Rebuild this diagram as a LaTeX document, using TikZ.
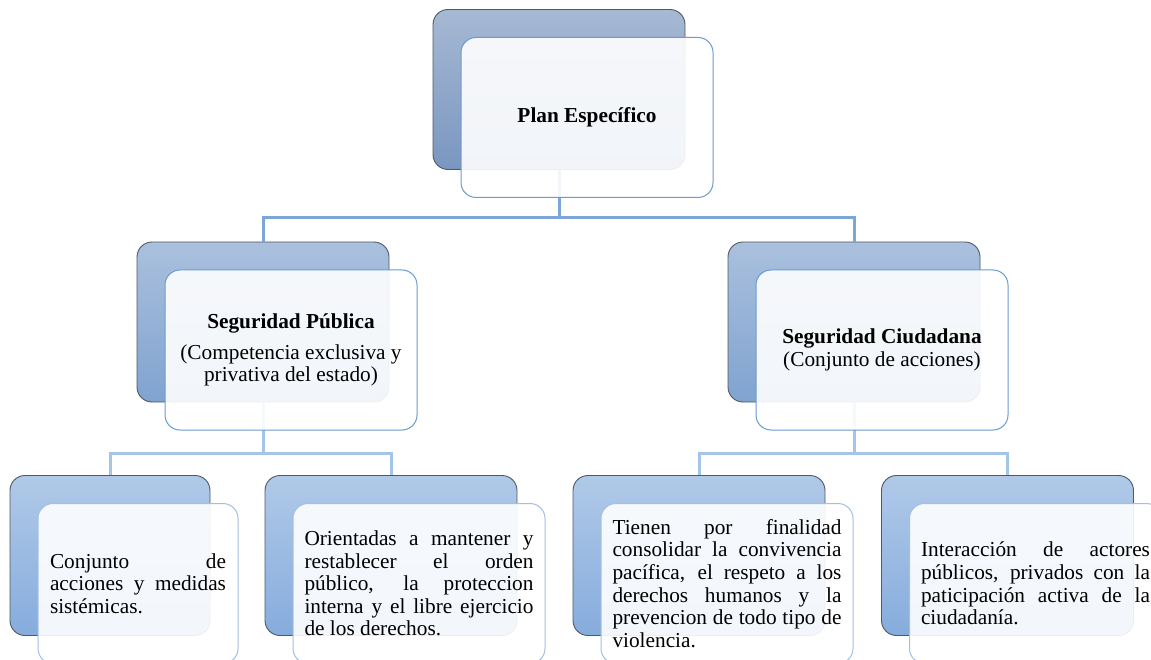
\documentclass[tikz,border=0pt]{standalone}
\usepackage{fontspec}
\setmainfont{Liberation Serif}
\usepackage{tikz}

\definecolor{edgegray}{RGB}{80,88,100}
\definecolor{planTop}{RGB}{166,185,212}
\definecolor{planBot}{RGB}{122,150,192}
\definecolor{segTop}{RGB}{170,192,221}
\definecolor{segBot}{RGB}{128,163,208}
\definecolor{hojaTop}{RGB}{176,201,232}
\definecolor{hojaBot}{RGB}{134,172,221}
\definecolor{lineaA}{RGB}{106,155,210}
\definecolor{lineaB}{RGB}{163,192,228}
\definecolor{connA}{RGB}{123,166,217}
\definecolor{connB}{RGB}{165,196,233}

\begin{document}
\begin{tikzpicture}[x=1pt,y=-1pt,
    back/.style={draw=edgegray,line width=0.9pt,rounded corners=15pt,
      minimum width=252pt,minimum height=160pt},
    backplan/.style={back,top color=planTop,bottom color=planBot},
    backseg/.style={back,top color=segTop,bottom color=segBot},
    backhoja/.style={back,top color=hojaTop,bottom color=hojaBot},
    front/.style={draw=lineaA,line width=1pt,rounded corners=15pt,
      fill=white,fill opacity=0.9,text opacity=1,inner sep=0pt,
      minimum width=252pt,minimum height=160pt,
      font=\fontsize{21.3}{22.6}\selectfont},
    fronthoja/.style={front,draw=lineaB,align=justify,text width=229pt},
    conn/.style={draw=connA,line width=3pt},
    connhoja/.style={draw=connB,line width=3pt}]
  \clip (0,0) rectangle (1151,660);
  \fill[white] (0,0) rectangle (1151,660);

  % cajas de fondo
  \node[backplan] (planB) at (559,89.5) {};
  \node[backseg] (pubB) at (263,322) {};
  \node[backseg] (ciuB) at (854,322) {};
  \node[backhoja,minimum width=200pt] (conjB) at (110,555.5) {};
  \node[backhoja] (orienB) at (391,555.5) {};
  \node[backhoja] (tienB) at (699,555.5) {};
  \node[backhoja] (interB) at (1007.5,555.5) {};

  % conectores
  \coordinate (j1) at (559,218);
  \coordinate (j2) at (263,453);
  \coordinate (j3) at (854,453);
  \draw[conn] (planB.south) -- (j1);
  \draw[conn] (j1) -| (pubB.north);
  \draw[conn] (j1) -| (ciuB.north);
  \draw[connhoja] (pubB.south) -- (j2);
  \draw[connhoja] (j2) -| (conjB.north);
  \draw[connhoja] (j2) -| (orienB.north);
  \draw[connhoja] (ciuB.south) -- (j3);
  \draw[connhoja] (j3) -| (tienB.north);
  \draw[connhoja] (j3) -| (interB.north);

  % cajas de texto
  \node[front] (plan) at ([shift={(28,28)}]planB.center)
    {\textbf{Plan Específico}};
  \node[front,align=center] (pub) at ([shift={(28,28)}]pubB.center)
    {\textbf{Seguridad Pública}\\[8pt](Competencia exclusiva y\\privativa del estado)};
  \node[front,align=center] (ciu) at ([shift={(28,28)}]ciuB.center)
    {\textbf{Seguridad Ciudadana}\\(Conjunto de acciones)};
  \node[fronthoja,minimum width=200pt,text width=176pt] (conj)
    at ([shift={(28,28)}]conjB.center)
    {Conjunto de\linebreak acciones y medidas\linebreak sistémicas.};
  \node[fronthoja] (orien) at ([shift={(28,28)}]orienB.center)
    {Orientadas a mantener y\linebreak restablecer el orden\linebreak
     público, la proteccion\linebreak interna y el libre ejercicio\linebreak
     de los derechos.};
  \node[fronthoja] (tien) at ([shift={(28,28)}]tienB.center)
    {Tienen por finalidad\linebreak consolidar la convivencia\linebreak
     pacífica, el respeto a los\linebreak derechos humanos y la\linebreak
     prevencion de todo tipo de\linebreak violencia.};
  \node[fronthoja] (inter) at ([shift={(28,28)}]interB.center)
    {Interacción de actores\linebreak públicos, privados con la\linebreak
     paticipación activa de la\linebreak ciudadanía.};
\end{tikzpicture}
\end{document}
